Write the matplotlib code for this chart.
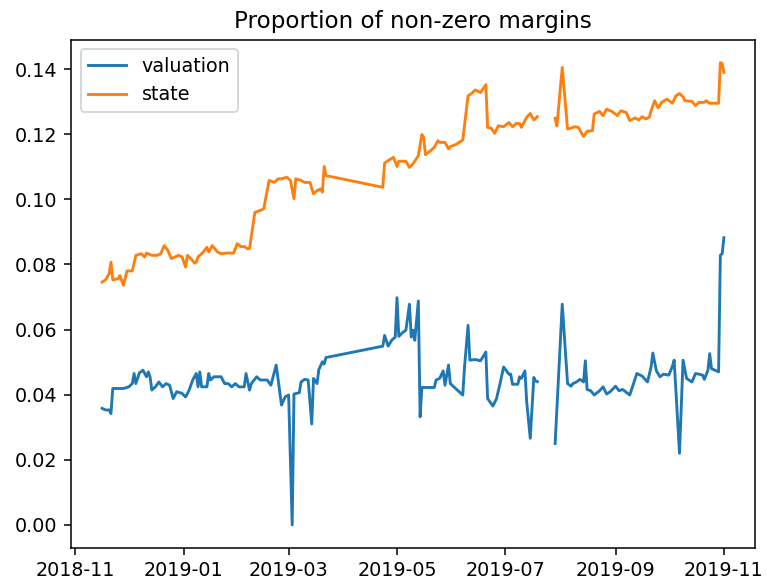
import numpy as np
import matplotlib
matplotlib.use("Agg")
import matplotlib.pyplot as plt

title = "Proportion of non-zero margins"
series_names = ["valuation", "state"]

valuation_dates = [
    "2018-11-16", "2018-11-18", "2018-11-20", "2018-11-21", "2018-11-22", "2018-11-25", "2018-11-28",
    "2018-12-01", "2018-12-03", "2018-12-04", "2018-12-05", "2018-12-07", "2018-12-09", "2018-12-11",
    "2018-12-12", "2018-12-13", "2018-12-14", "2018-12-16", "2018-12-18", "2018-12-20", "2018-12-22",
    "2018-12-24", "2018-12-26", "2018-12-28", "2018-12-31", "2019-01-02", "2019-01-04", "2019-01-06",
    "2019-01-08", "2019-01-09", "2019-01-10", "2019-01-11", "2019-01-14", "2019-01-15", "2019-01-16",
    "2019-01-18", "2019-01-22", "2019-01-24", "2019-01-26", "2019-01-28", "2019-01-30", "2019-02-01",
    "2019-02-04", "2019-02-05", "2019-02-07", "2019-02-08", "2019-02-11", "2019-02-13", "2019-02-17",
    "2019-02-19", "2019-02-22", "2019-02-25", "2019-02-27", "2019-03-01", "2019-03-03", "2019-03-04",
    "2019-03-07", "2019-03-08", "2019-03-10", "2019-03-12", "2019-03-14", "2019-03-15", "2019-03-17",
    "2019-03-18", "2019-03-20", "2019-03-21", "2019-03-22", "2019-04-23", "2019-04-24", "2019-04-26",
    "2019-04-28", "2019-04-30", "2019-05-01", "2019-05-02", "2019-05-04", "2019-05-06", "2019-05-08",
    "2019-05-09", "2019-05-10", "2019-05-11", "2019-05-13", "2019-05-14", "2019-05-15", "2019-05-19",
    "2019-05-22", "2019-05-23", "2019-05-25", "2019-05-27", "2019-05-28", "2019-05-30", "2019-05-31",
    "2019-06-03", "2019-06-07", "2019-06-08", "2019-06-10", "2019-06-11", "2019-06-14", "2019-06-17",
    "2019-06-20", "2019-06-21", "2019-06-24", "2019-06-26", "2019-06-28", "2019-06-30", "2019-07-03",
    "2019-07-04", "2019-07-05", "2019-07-08", "2019-07-09", "2019-07-10", "2019-07-12", "2019-07-13",
    "2019-07-15", "2019-07-17", "2019-07-18", "2019-07-19", "2019-07-24", "2019-07-29", "2019-08-02",
    "2019-08-05", "2019-08-07", "2019-08-08", "2019-08-10", "2019-08-12", "2019-08-14", "2019-08-15",
    "2019-08-16", "2019-08-18", "2019-08-20", "2019-08-23", "2019-08-25", "2019-08-27", "2019-08-29",
    "2019-09-01", "2019-09-03", "2019-09-05", "2019-09-09", "2019-09-13", "2019-09-16", "2019-09-19",
    "2019-09-21", "2019-09-22", "2019-09-24", "2019-09-26", "2019-09-28", "2019-10-01", "2019-10-03",
    "2019-10-04", "2019-10-07", "2019-10-09", "2019-10-11", "2019-10-14", "2019-10-16", "2019-10-18",
    "2019-10-20", "2019-10-21", "2019-10-23", "2019-10-24", "2019-10-25", "2019-10-29", "2019-10-30",
    "2019-10-31", "2019-11-01",
]
valuation = [
    0.0358, 0.0353, 0.0353, 0.0342, 0.0419, 0.0419, 0.0419,
    0.0424, 0.0434, 0.0465, 0.0434, 0.0467, 0.0475, 0.0455,
    0.0470, 0.0455, 0.0414, 0.0424, 0.0439, 0.0424, 0.0434,
    0.0429, 0.0388, 0.0409, 0.0404, 0.0393, 0.0414, 0.0445,
    0.0465, 0.0424, 0.0470, 0.0424, 0.0424, 0.0465, 0.0445,
    0.0455, 0.0455, 0.0434, 0.0434, 0.0424, 0.0434, 0.0424,
    0.0424, 0.0465, 0.0414, 0.0434, 0.0455, 0.0445, 0.0445,
    0.0429, 0.0491, 0.0368, 0.0393, 0.0399, 0.0000, 0.0402,
    0.0406, 0.0439, 0.0447, 0.0445, 0.0310, 0.0450, 0.0434,
    0.0477, 0.0501, 0.0494, 0.0514, 0.0549, 0.0582, 0.0549,
    0.0567, 0.0577, 0.0698, 0.0579, 0.0590, 0.0598, 0.0678,
    0.0577, 0.0598, 0.0567, 0.0688, 0.0332, 0.0422, 0.0422,
    0.0422, 0.0445, 0.0450, 0.0473, 0.0429, 0.0491, 0.0434,
    0.0419, 0.0399, 0.0485, 0.0613, 0.0506, 0.0508, 0.0504,
    0.0531, 0.0388, 0.0365, 0.0388, 0.0434, 0.0485, 0.0463,
    0.0463, 0.0432, 0.0432, 0.0455, 0.0450, 0.0473, 0.0378,
    0.0266, 0.0453, 0.0442, 0.0440, np.nan, 0.0250, 0.0678,
    0.0434, 0.0426, 0.0434, 0.0439, 0.0447, 0.0439, 0.0504,
    0.0416, 0.0412, 0.0399, 0.0412, 0.0424, 0.0402, 0.0409,
    0.0426, 0.0412, 0.0416, 0.0399, 0.0465, 0.0457, 0.0439,
    0.0485, 0.0528, 0.0473, 0.0455, 0.0463, 0.0460, 0.0487,
    0.0506, 0.0220, 0.0506, 0.0450, 0.0439, 0.0465, 0.0463,
    0.0460, 0.0447, 0.0475, 0.0526, 0.0480, 0.0470, 0.0828,
    0.0833, 0.0882,
]

state_dates = [
    "2018-11-16", "2018-11-18", "2018-11-20", "2018-11-21", "2018-11-22", "2018-11-25", "2018-11-26",
    "2018-11-28", "2018-11-30", "2018-12-03", "2018-12-05", "2018-12-08", "2018-12-10", "2018-12-11",
    "2018-12-14", "2018-12-17", "2018-12-19", "2018-12-21", "2018-12-23", "2018-12-25", "2018-12-29",
    "2018-12-31", "2019-01-02", "2019-01-03", "2019-01-05", "2019-01-07", "2019-01-08", "2019-01-09",
    "2019-01-12", "2019-01-14", "2019-01-15", "2019-01-17", "2019-01-20", "2019-01-22", "2019-01-25",
    "2019-01-29", "2019-01-30", "2019-01-31", "2019-02-02", "2019-02-04", "2019-02-06", "2019-02-07",
    "2019-02-10", "2019-02-13", "2019-02-15", "2019-02-18", "2019-02-21", "2019-02-23", "2019-02-25",
    "2019-02-28", "2019-03-02", "2019-03-04", "2019-03-05", "2019-03-08", "2019-03-10", "2019-03-13",
    "2019-03-15", "2019-03-17", "2019-03-19", "2019-03-20", "2019-03-21", "2019-03-22", "2019-04-23",
    "2019-04-24", "2019-04-26", "2019-04-29", "2019-05-01", "2019-05-02", "2019-05-06", "2019-05-08",
    "2019-05-10", "2019-05-13", "2019-05-15", "2019-05-16", "2019-05-17", "2019-05-20", "2019-05-22",
    "2019-05-24", "2019-05-25", "2019-05-28", "2019-05-30", "2019-05-31", "2019-06-03", "2019-06-07",
    "2019-06-10", "2019-06-12", "2019-06-14", "2019-06-17", "2019-06-20", "2019-06-21", "2019-06-23",
    "2019-06-25", "2019-06-27", "2019-06-30", "2019-07-03", "2019-07-05", "2019-07-07", "2019-07-09",
    "2019-07-10", "2019-07-13", "2019-07-15", "2019-07-17", "2019-07-19", "2019-07-24", "2019-07-29",
    "2019-07-30", "2019-08-02", "2019-08-05", "2019-08-07", "2019-08-09", "2019-08-11", "2019-08-14",
    "2019-08-16", "2019-08-19", "2019-08-20", "2019-08-23", "2019-08-25", "2019-08-27", "2019-08-30",
    "2019-09-02", "2019-09-04", "2019-09-07", "2019-09-09", "2019-09-12", "2019-09-14", "2019-09-16",
    "2019-09-18", "2019-09-20", "2019-09-21", "2019-09-23", "2019-09-25", "2019-09-27", "2019-09-30",
    "2019-10-03", "2019-10-05", "2019-10-07", "2019-10-09", "2019-10-10", "2019-10-14", "2019-10-16",
    "2019-10-18", "2019-10-21", "2019-10-22", "2019-10-24", "2019-10-29", "2019-10-30", "2019-10-31",
    "2019-11-01",
]
state = [
    0.0746, 0.0753, 0.0772, 0.0807, 0.0753, 0.0756, 0.0766,
    0.0736, 0.0780, 0.0780, 0.0828, 0.0833, 0.0823, 0.0835,
    0.0828, 0.0828, 0.0833, 0.0858, 0.0843, 0.0818, 0.0828,
    0.0823, 0.0792, 0.0828, 0.0818, 0.0804, 0.0807, 0.0823,
    0.0838, 0.0853, 0.0838, 0.0858, 0.0838, 0.0833, 0.0835,
    0.0835, 0.0848, 0.0864, 0.0855, 0.0855, 0.0848, 0.0849,
    0.0960, 0.0966, 0.0971, 0.1058, 0.1052, 0.1063, 0.1063,
    0.1068, 0.1058, 0.1002, 0.1063, 0.1058, 0.1052, 0.1052,
    0.1017, 0.1027, 0.1032, 0.1022, 0.1101, 0.1073, 0.1037,
    0.1111, 0.1119, 0.1129, 0.1101, 0.1117, 0.1117, 0.1098,
    0.1109, 0.1134, 0.1199, 0.1190, 0.1137, 0.1150, 0.1160,
    0.1180, 0.1175, 0.1175, 0.1155, 0.1162, 0.1168, 0.1182,
    0.1318, 0.1325, 0.1336, 0.1328, 0.1352, 0.1221, 0.1219,
    0.1203, 0.1226, 0.1223, 0.1236, 0.1223, 0.1233, 0.1233,
    0.1221, 0.1252, 0.1264, 0.1244, 0.1254, np.nan, 0.1249,
    0.1225, 0.1405, 0.1216, 0.1219, 0.1223, 0.1221, 0.1193,
    0.1209, 0.1211, 0.1262, 0.1270, 0.1257, 0.1277, 0.1270,
    0.1257, 0.1272, 0.1267, 0.1242, 0.1250, 0.1244, 0.1254,
    0.1247, 0.1252, 0.1272, 0.1303, 0.1281, 0.1298, 0.1308,
    0.1295, 0.1318, 0.1325, 0.1315, 0.1303, 0.1301, 0.1288,
    0.1298, 0.1298, 0.1303, 0.1295, 0.1295, 0.1420, 0.1417,
    0.1390,
]

DPI = 137.7
fig = plt.figure(figsize=(767 / DPI, 585 / DPI), dpi=DPI)
ax = fig.add_axes([71 / 767, 37 / 585, 684 / 767, 508.5 / 585])

ax.plot(np.array(valuation_dates, dtype="datetime64[D]"), valuation, label=series_names[0])
ax.plot(np.array(state_dates, dtype="datetime64[D]"), state, label=series_names[1])
ax.set_title(title)
ax.legend(loc="upper left")

fig.savefig("out.png", dpi=DPI)
